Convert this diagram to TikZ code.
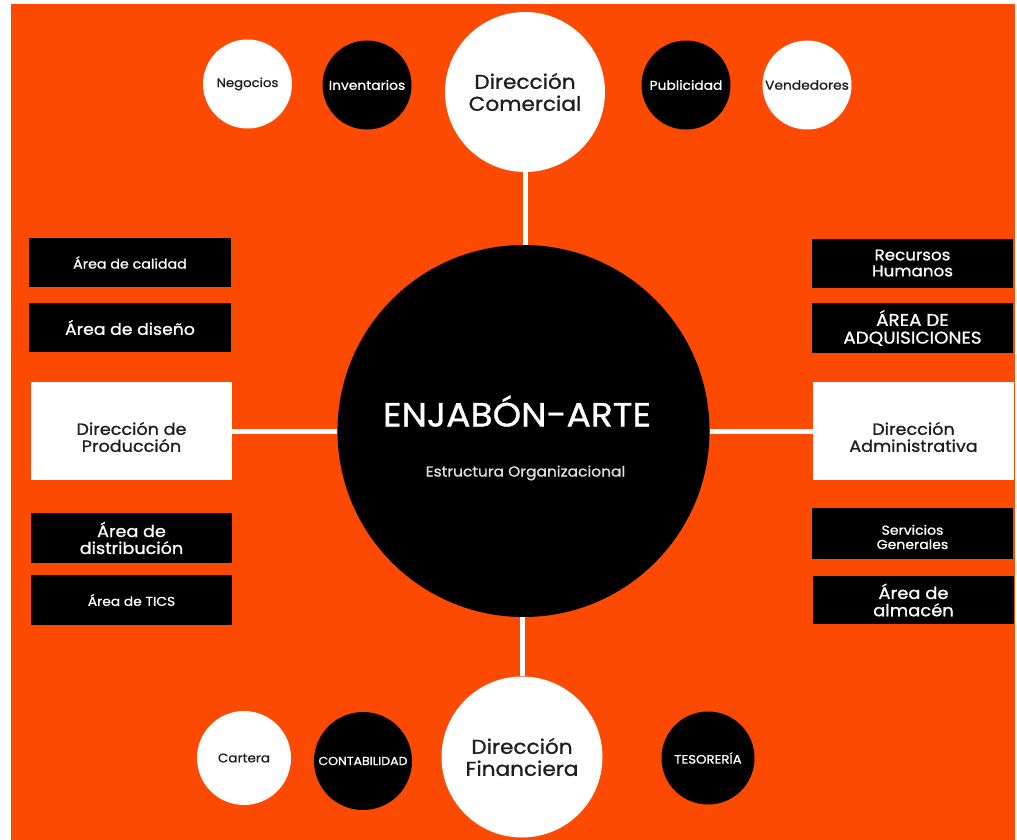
\documentclass[tikz,border=0pt]{standalone}
\usepackage{fontspec}
\setmainfont{Poppins}[FakeStretch=1.08,FakeBold=1.0]
\definecolor{bgorange}{RGB}{252,74,2}
\definecolor{darktext}{RGB}{30,30,30}
\newcommand{\fsz}[1]{\fontsize{#1}{\dimexpr #1pt*11/10\relax}\selectfont}
\begin{document}
\begin{tikzpicture}[x=1pt,y=-1pt,
  blackcirc/.style={circle,fill=black,text=white,inner sep=0pt,align=center},
  whitecirc/.style={circle,fill=white,text=darktext,inner sep=0pt,align=center},
  blackbox/.style={rectangle,fill=black,text=white,inner sep=0pt,align=center,minimum width=201pt},
  whitebox/.style={rectangle,fill=white,inner sep=0pt,minimum width=201pt,minimum height=98pt},
  boxlabel/.style={text=darktext,align=center,inner sep=0pt},
  link/.style={draw=white,line width=5pt}
]
\useasboundingbox (0,0) rectangle (1017,840);
\fill[white] (0,0) rectangle (1017,840);
\fill[bgorange] (11,4) rectangle (1015,840);

% central circle
\node[blackcirc,minimum size=372pt] (center) at (523.5,431) {};
\node[text=white,font=\fsz{33.5}] (title) at (517,411) {ENJABÓN-ARTE};
\node[text=white!88!black,font=\fsz{14.3}] (subtitle) at (525.5,473) {Estructura Organizacional};

% top
\node[whitecirc,minimum size=160pt,font=\fsz{20}] (com) at (525,92) {Dirección\\Comercial};
\node[whitecirc,minimum size=89pt,font=\fsz{12.3}] (neg) at (247.5,84) {Negocios};
\node[blackcirc,minimum size=89pt,font=\fsz{12.8}] (inv) at (367,85) {Inventarios};
\node[blackcirc,minimum size=89pt,font=\fsz{12.8}] (pub) at (686,85) {Publicidad};
\node[whitecirc,minimum size=89pt,font=\fsz{12.8}] (ven) at (807,85) {Vendedores};

% bottom
\node[whitecirc,minimum size=161pt,font=\fsz{20}] (fin) at (522,757) {Dirección\\Financiera};
\node[whitecirc,minimum size=94pt,font=\fsz{12.5}] (car) at (244,758) {Cartera};
\node[blackcirc,minimum size=98pt,font=\fsz{11.6}] (cont) at (363,761) {CONTABILIDAD};
\node[blackcirc,minimum size=93pt,font=\fsz{12.3}] (tes) at (708,758) {TESORERÍA};

% left
\node[blackbox,minimum width=202pt,minimum height=49pt,font=\fsz{13.2}] (cal) at (130,262.5) {Área de calidad};
\node[blackbox,minimum width=202pt,minimum height=49pt,font=\fsz{16}] (dis) at (130,327.5) {Área de diseño};
\node[whitebox] (prod) at (131.5,431) {};
\node[boxlabel,font=\fsz{16.3}] (prodlbl) at (131.5,437) {Dirección de\\[-1pt]Producción};
\node[blackbox,minimum height=50pt,font=\fsz{16.3}] (distr) at (131.5,538) {Área de\\[-1pt]distribución};
\node[blackbox,minimum height=50pt,font=\fsz{12.8}] (tics) at (131.5,600) {Área de TICS};

% right
\node[blackbox,minimum height=49pt,font=\fsz{15.5}] (rrhh) at (912.5,263) {Recursos\\[-1pt]Humanos};
\node[blackbox,minimum height=50pt,font=\fsz{17}] (adq) at (912.5,328) {ÁREA DE\\[-1pt]ADQUISICIONES};
\node[whitebox] (adm) at (913.5,431) {};
\node[boxlabel,font=\fsz{16.3}] (admlbl) at (913.5,437) {Dirección\\[-1pt]Administrativa};
\node[blackbox,minimum height=51pt] (serv) at (912.5,533) {};
\node[text=white,align=center,inner sep=0pt,font=\fsz{13}] (servlbl) at (912.5,537) {Servicios\\Generales};
\node[blackbox,minimum height=48pt,font=\fsz{16.6}] (alm) at (913.5,600) {Área de\\[-1pt]almacén};

% connectors
\draw[link] (com.south) -- (com.south |- center.north);
\draw[link] (fin.north) -- (fin.north |- center.south);
\draw[link] (prod.east) -- (center.west);
\draw[link] (adm.west) -- (center.east);
\end{tikzpicture}
\end{document}
